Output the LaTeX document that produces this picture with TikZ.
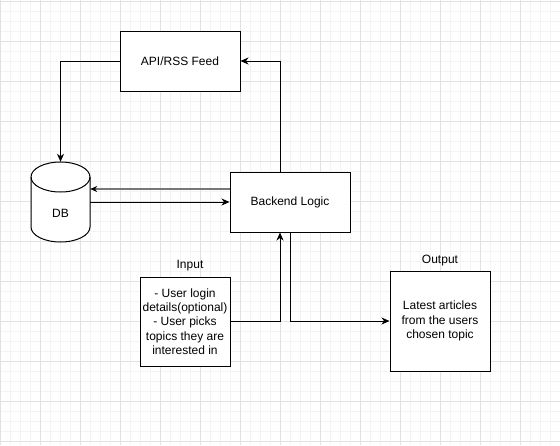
\documentclass[tikz,border=0pt]{standalone}
\usepackage{fontspec}
\setmainfont{Liberation Sans}
\usetikzlibrary{arrows.meta}
\definecolor{minorgrid}{HTML}{F3F3F3}
\definecolor{majorgrid}{HTML}{E2E2E2}
\definecolor{grayline}{HTML}{777777}
\tikzset{
  box/.style={draw=black, line width=1pt, fill=white, minimum width=#1, inner sep=0pt, align=center, font=\fontsize{12}{14.3}\selectfont},
  conn/.style={draw=black, line width=1pt, -{Stealth[length=8pt,width=7pt,inset=2.5pt]}},
  grayconn/.style={draw=grayline, line width=1.8pt, -{Stealth[length=7pt,width=6pt,inset=2.2pt,color=black]}},
  lbl/.style={inner sep=0pt, font=\fontsize{12}{14.3}\selectfont},
  minorg/.style={draw=minorgrid, line width=0.8pt},
  majorg/.style={draw=majorgrid, line width=1pt}
}
\begin{document}
\begin{tikzpicture}[x=1pt,y=-1pt]
\useasboundingbox (0,0) rectangle (560,445);
\fill[white] (0,0) rectangle (560,445);
% grid
\foreach \x in {10,20,...,550} \draw[minorg] (\x,0) -- (\x,445);
\foreach \y in {11,21,...,441} \draw[minorg] (0,\y) -- (560,\y);
\foreach \x in {0,40,...,560} \draw[majorg] (\x,0) -- (\x,445);
\foreach \y in {1,41,...,441} \draw[majorg] (0,\y) -- (560,\y);

% DB cylinder
\filldraw[fill=white, draw=black, line width=1pt]
  (31,177) -- (31,227) arc[start angle=180, end angle=360, x radius=29.5, y radius=-15]
  -- (90,177) arc[start angle=0, end angle=180, x radius=29.5, y radius=-15] -- cycle;
\draw[black, line width=1pt] (31,177) arc[start angle=180, end angle=360, x radius=29.5, y radius=-15];
\node[inner sep=0pt, minimum width=59pt, minimum height=80pt] (db) at (60.5,202) {};
\node[lbl] (dbtext) at (60.5,213) {DB};

% boxes
\node[box=120pt, minimum height=60pt] (api) at (180,61) {API/RSS Feed};
\node[box=120pt, minimum height=60pt] (backend) at (290,202) {Backend Logic};
\node[box=90pt, minimum height=89pt] (input) at (185,321.5) {- User login\\details(optional)\\- User picks\\topics they are\\interested in};
\node[box=100pt, minimum height=100pt] (output) at (440,321) {Latest articles\\from the users\\chosen topic};
\node[lbl] (inlbl) at (190,266) {Input};
\node[lbl] (outlbl) at (440,261) {Output};

% connectors
\draw[conn] (api.west) -| (db.north);
\draw[conn] ([xshift=-10pt]backend.north) |- (api.east);
\draw[grayconn] ([yshift=13pt]backend.west) -- ([yshift=13pt]db.east);
\draw[conn] (db.east) -- (backend.west);
\draw[conn] (input.east) -| ([xshift=-10pt]backend.south);
\draw[conn] (backend.south) |- (output.west);
\end{tikzpicture}
\end{document}
